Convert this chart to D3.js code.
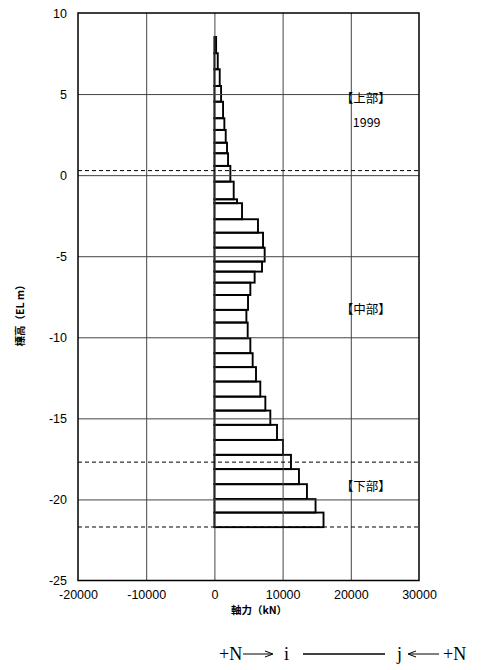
<!DOCTYPE html>
<html><head><meta charset="utf-8">
<script src="https://cdn.jsdelivr.net/npm/d3@7"></script>
<style>body{margin:0;background:#fff;}svg{display:block;}</style>
</head><body>
<script>
// element top/bottom elevations (EL m) and axial force (kN)
const elTop = [8.52,7.52,6.53,5.50,4.53,3.51,2.79,2.00,1.35,0.57,-0.40,-1.49,-1.73,-2.72,-3.55,-4.47,-5.33,-5.95,-6.63,-7.39,-8.31,-9.09,-10.06,-10.98,-11.84,-12.73,-13.66,-14.52,-15.40,-16.33,-17.25,-18.13,-19.06,-19.98,-20.81];
const elBot = [7.52,6.53,5.50,4.53,3.51,2.79,2.00,1.35,0.57,-0.40,-1.49,-1.73,-2.72,-3.55,-4.47,-5.33,-5.95,-6.63,-7.39,-8.31,-9.09,-10.06,-10.98,-11.84,-12.73,-13.66,-14.52,-15.40,-16.33,-17.25,-18.13,-19.06,-19.98,-20.81,-21.71];
const force = [250,490,780,980,1270,1460,1660,1850,2000,2340,2830,3320,4050,6390,7130,7370,6980,5900,5270,4930,4690,4880,5270,5610,6100,6730,7470,8200,9180,10060,11230,12400,13570,14830,16000];
const xTicks = [-20000,-10000,0,10000,20000,30000];
const xTickLabels = ["-20000","-10000","0","10000","20000","30000"];
const yTicks = [10,5,0,-5,-10,-15,-20,-25];
const yTickLabels = ["10","5","0","-5","-10","-15","-20","-25"];
const dashedEl = [0.28,-17.7,-21.7];
const sectionLabels = [{t:"【上部】",el:4.75},{t:"1999",el:3.25},{t:"【中部】",el:-8.3},{t:"【下部】",el:-19.2}];

const W=484,H=670;
const m={l:78,t:13,r:65,b:89.5};
const pw=W-m.l-m.r, ph=H-m.t-m.b;
const svg=d3.select("body").append("svg").attr("width",W).attr("height",H);
const g=svg.append("g").attr("transform",`translate(${m.l},${m.t})`);
const x=d3.scaleLinear().domain([-20000,30000]).range([0,pw]);
const y=d3.scaleLinear().domain([-25,10]).range([ph,0]);
const gothic='"Noto Sans CJK JP","Liberation Sans",sans-serif';

// bars
const data=force.map((v,i)=>({v,t:elTop[i],b:elBot[i]}));
g.selectAll("rect.bar").data(data).join("rect").attr("class","bar")
 .attr("x",d=>x(0)).attr("width",d=>x(d.v)-x(0))
 .attr("y",d=>y(d.t)).attr("height",d=>y(d.b)-y(d.t))
 .attr("fill","none").attr("stroke","#000").attr("stroke-width",1.9);

// grid
const gx=d3.axisBottom(x).tickValues(xTicks.slice(1,-1)).tickSize(-ph).tickFormat("");
g.append("g").attr("transform",`translate(0,${ph})`).call(gx)
 .call(s=>{s.select(".domain").remove();s.selectAll("line").attr("stroke","#444").attr("stroke-width",1);});
const gy=d3.axisLeft(y).tickValues(yTicks.slice(1,-1)).tickSize(-pw).tickFormat("");
g.append("g").call(gy)
 .call(s=>{s.select(".domain").remove();s.selectAll("line").attr("stroke","#444").attr("stroke-width",1);});

// dashed
g.selectAll("line.dash").data(dashedEl).join("line").attr("class","dash")
 .attr("x1",0).attr("x2",pw).attr("y1",d=>y(d)).attr("y2",d=>y(d))
 .attr("stroke","#000").attr("stroke-width",1).attr("stroke-dasharray","4,3");

// frame
g.append("rect").attr("width",pw).attr("height",ph).attr("fill","none").attr("stroke","#000").attr("stroke-width",1.5);

// tick labels
const ax=d3.axisBottom(x).tickValues(xTicks).tickSize(0).tickPadding(10).tickFormat((d,i)=>xTickLabels[i]);
g.append("g").attr("transform",`translate(0,${ph})`).call(ax)
 .call(s=>{s.select(".domain").remove();s.selectAll("text").attr("font-family",'"Liberation Sans",sans-serif').attr("font-size",12.5).attr("fill","#000");});
const ay=d3.axisLeft(y).tickValues(yTicks).tickSize(0).tickPadding(11).tickFormat((d,i)=>yTickLabels[i]);
g.append("g").call(ay)
 .call(s=>{s.select(".domain").remove();s.selectAll("text").attr("font-family",'"Liberation Sans",sans-serif').attr("font-size",12.5).attr("fill","#000");});

// section labels
g.selectAll("text.sec").data(sectionLabels).join("text").attr("class","sec")
 .attr("x",d=>d.t==="1999"?x(20000)+2:x(20000)-10).attr("y",d=>y(d.el)).attr("dy","0.35em")
 .attr("font-family",gothic).attr("font-size",12.5).text(d=>d.t);

// axis titles
svg.append("text").attr("transform",`translate(24,313) rotate(-90)`).attr("text-anchor","middle")
 .attr("font-family",gothic).attr("font-size",10.5).attr("font-weight","bold").text("標高（EL m）");
svg.append("text").attr("x",259).attr("y",614).attr("text-anchor","middle")
 .attr("font-family",gothic).attr("font-size",10.5).attr("font-weight","bold").text("軸力（kN）");

// sign convention
const serif='"Liberation Serif","DejaVu Serif",serif';
const sign=[{t:"+N",x:219},{t:"i",x:284},{t:"j",x:397},{t:"+N",x:443}];
svg.selectAll("text.sign").data(sign).join("text").attr("class","sign")
 .attr("x",d=>d.x).attr("y",660).attr("font-family",serif).attr("font-size",18).text(d=>d.t);
// arrows and member line
svg.append("line").attr("x1",243).attr("x2",272).attr("y1",654).attr("y2",654).attr("stroke","#000").attr("stroke-width",1);
svg.append("path").attr("d","M265,651 L273,654 L265,657").attr("fill","none").attr("stroke","#000").attr("stroke-width",1);
svg.append("line").attr("x1",409).attr("x2",439).attr("y1",654).attr("y2",654).attr("stroke","#000").attr("stroke-width",1);
svg.append("path").attr("d","M416,651 L408,654 L416,657").attr("fill","none").attr("stroke","#000").attr("stroke-width",1);
svg.append("line").attr("x1",303).attr("x2",385).attr("y1",654).attr("y2",654).attr("stroke","#000").attr("stroke-width",1.3);
</script>
</body></html>
